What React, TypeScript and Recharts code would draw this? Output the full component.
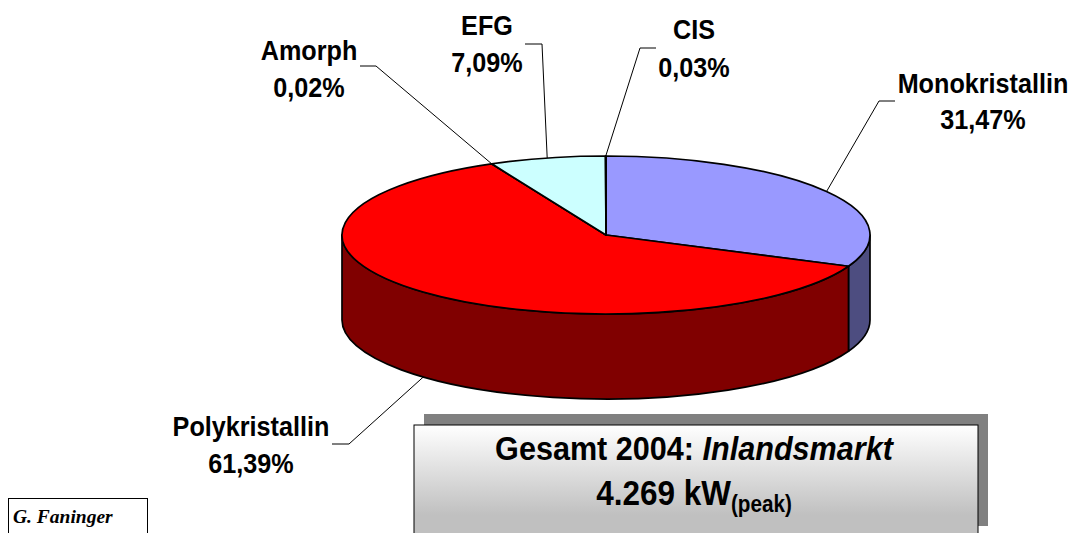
import { PieChart, Pie } from "recharts";

const FONT = "'Liberation Sans', Arial, sans-serif";

const CATEGORIES = ["Monokristallin", "Polykristallin", "Amorph", "EFG", "CIS"];
const SHARES = [31.47, 61.39, 0.02, 7.09, 0.03];
const SHARE_LABELS = ["31,47%", "61,39%", "0,02%", "7,09%", "0,03%"];
const TOP_COLORS = ["#9999ff", "#ff0000", "#ffffcc", "#ccffff", "#660066"];
const WALL_COLORS = ["#4d4d80", "#800000", "#808066", "#668080", "#330033"];

// tilt of the pie: height of the ellipse against its width, and thickness in px
const TILT = 79 / 264;
const DEPTH = 85;

// elbow of the leader, its end, and where the two text lines go
const LABEL_LAYOUT = [
  { elbow: [879, 101], end: [895, 101], x: 983, y: [93, 129] },
  { elbow: [349, 444], end: [332, 444], x: 251, y: [436, 473] },
  { elbow: [376, 66], end: [360, 66], x: 309, y: [60, 97] },
  { elbow: [542, 44], end: [525, 44], x: 487, y: [35, 72] },
  { elbow: [640, 48], end: [656, 48], x: 694, y: [39, 77] },
];

const topData = CATEGORIES.map((name, i) => ({ name, value: SHARES[i], fill: TOP_COLORS[i] }));
const wallData = CATEGORIES.map((name, i) => ({ name, value: SHARES[i], fill: WALL_COLORS[i] }));

const rim = (cx: number, cy: number, r: number, deg: number) => {
  const a = (deg * Math.PI) / 180;
  return [cx + r * Math.cos(a), cy - r * TILT * Math.sin(a)];
};

function TopSlice(props: any) {
  const { cx, cy, outerRadius: r, startAngle, endAngle, fill } = props;
  const [x0, y0] = rim(cx, cy, r, startAngle);
  const [x1, y1] = rim(cx, cy, r, endAngle);
  const large = Math.abs(startAngle - endAngle) > 180 ? 1 : 0;
  const d = `M${cx},${cy} L${x0},${y0} A${r},${r * TILT} 0 ${large} 1 ${x1},${y1} Z`;
  return <path d={d} fill={fill} stroke="#000" strokeWidth={1.7} strokeLinejoin="round" />;
}

// only the front half of the rim has a visible wall
function WallSlice(props: any) {
  const { cx, cy, outerRadius: r, startAngle, endAngle, fill } = props;
  const s = Math.min(startAngle, 0);
  const e = Math.max(endAngle, -180);
  if (s <= e) return <g />;
  const [x0, y0] = rim(cx, cy, r, s);
  const [x1, y1] = rim(cx, cy, r, e);
  const ry = r * TILT;
  const d = `M${x0},${y0} A${r},${ry} 0 0 1 ${x1},${y1} L${x1},${y1 + DEPTH} A${r},${ry} 0 0 0 ${x0},${y0 + DEPTH} Z`;
  return <path d={d} fill={fill} stroke="#000" strokeWidth={1.7} strokeLinejoin="round" />;
}

function Narrow({ x, y, size = 28, children, anchor = "middle" }: any) {
  return (
    <text
      transform={`translate(${x},${y}) scale(0.9,1)`}
      textAnchor={anchor}
      fontFamily={FONT}
      fontWeight="bold"
      fontSize={size}
      fill="#000"
    >
      {children}
    </text>
  );
}

function SliceLabel(props: any) {
  const { cx, cy, outerRadius, midAngle, index } = props;
  const layout = LABEL_LAYOUT[index];
  const [px, py] = rim(cx, cy, outerRadius, midAngle);
  // leaders of slices facing the viewer start on the wall's lower edge
  const sy = Math.sin((midAngle * Math.PI) / 180) < 0 ? py + DEPTH : py;
  return (
    <g>
      <polyline
        points={`${px},${sy} ${layout.elbow.join(",")} ${layout.end.join(",")}`}
        fill="none"
        stroke="#000"
        strokeWidth={1}
      />
      <Narrow x={layout.x} y={layout.y[0]}>{CATEGORIES[index]}</Narrow>
      <Narrow x={layout.x} y={layout.y[1]}>{SHARE_LABELS[index]}</Narrow>
    </g>
  );
}

export default function App() {
  return (
    <div style={{ position: "absolute", left: 0, top: 0, width: 1073, height: 533, overflow: "hidden", background: "#fff" }}>
      <PieChart width={1073} height={533} margin={{ top: 0, right: 0, bottom: 0, left: 0 }}>
        <defs>
          <linearGradient id="boxFill" x1="0" y1="0" x2="0" y2="1">
            <stop offset="0%" stopColor="#ffffff" />
            <stop offset="75%" stopColor="#c0c0c0" />
            <stop offset="100%" stopColor="#c0c0c0" />
          </linearGradient>
        </defs>
        <Pie
          data={wallData}
          dataKey="value"
          cx={606}
          cy={235}
          outerRadius={264}
          startAngle={90}
          endAngle={-270}
          isAnimationActive={false}
          shape={WallSlice}
          activeShape={WallSlice}
          inactiveShape={WallSlice}
          label={false}
          labelLine={false}
        />
        <Pie
          data={topData}
          dataKey="value"
          cx={606}
          cy={235}
          outerRadius={264}
          startAngle={90}
          endAngle={-270}
          isAnimationActive={false}
          shape={TopSlice}
          activeShape={TopSlice}
          inactiveShape={TopSlice}
          label={SliceLabel}
          labelLine={false}
        />
        <rect x={424} y={414} width={564} height={112} fill="#808080" />
        <rect x={414} y={425} width={564} height={120} fill="url(#boxFill)" stroke="#000" strokeWidth={1} />
        <text transform="translate(694,460) scale(0.9,1)" textAnchor="middle" fontFamily={FONT} fontWeight="bold" fontSize={34}>
          Gesamt 2004: <tspan fontStyle="italic">Inlandsmarkt</tspan>
        </text>
        <text transform="translate(694,505) scale(0.9,1)" textAnchor="middle" fontFamily={FONT} fontWeight="bold" fontSize={35}>
          4.269 kW<tspan fontSize={23} dy={7}>(peak)</tspan>
        </text>
        <rect x={8.5} y={498.5} width={139} height={50} fill="#fff" stroke="#000" strokeWidth={1} />
        <text x={13} y={523} fontFamily="'Liberation Serif', serif" fontStyle="italic" fontWeight="bold" fontSize={19.5}>
          G. Faninger
        </text>
      </PieChart>
    </div>
  );
}
